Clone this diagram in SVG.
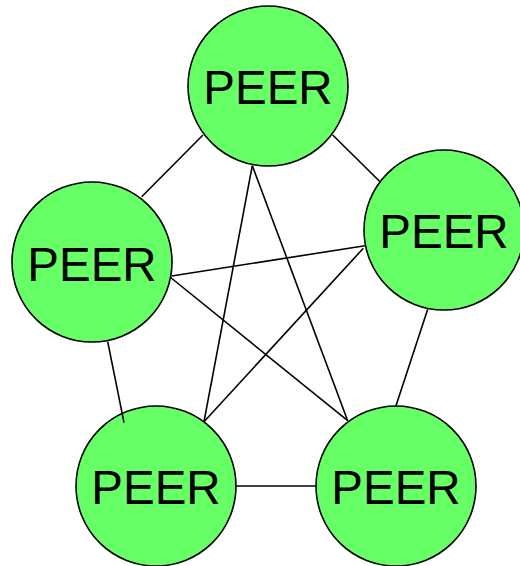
<svg xmlns="http://www.w3.org/2000/svg" width="520" height="566" viewBox="0 0 520 566">
<style>
.n{fill:#66ff66;stroke:#000;stroke-width:1.6}
.t{font-family:"Liberation Sans",Arial,sans-serif;font-size:47.5px;fill:#000;text-anchor:middle}
.c line{stroke:#000;stroke-width:1.6}
</style>
<rect width="520" height="566" fill="#fff"/>
<g id="peer-top"><circle class="n" cx="268" cy="86" r="80"/><text class="t" x="268" y="104">PEER</text></g>
<g id="peer-left"><circle class="n" cx="92" cy="262" r="80"/><text class="t" x="92" y="281">PEER</text></g>
<g id="peer-right"><circle class="n" cx="444" cy="230" r="80"/><text class="t" x="444" y="248">PEER</text></g>
<g id="peer-bottom-left"><circle class="n" cx="156" cy="486" r="80"/><text class="t" x="156" y="504">PEER</text></g>
<g id="peer-bottom-right"><circle class="n" cx="396" cy="486" r="80"/><text class="t" x="396" y="504">PEER</text></g>
<g id="connectors" class="c">
<line x1="203" y1="135" x2="141.7" y2="196.7"/>
<line x1="332.7" y1="135" x2="380" y2="181.7"/>
<line x1="252.3" y1="165.7" x2="204" y2="421.7"/>
<line x1="252.3" y1="165.7" x2="347.7" y2="420.7"/>
<line x1="171.7" y1="276" x2="365" y2="245.7"/>
<line x1="170" y1="277" x2="347.7" y2="420.7"/>
<line x1="363.3" y1="248.3" x2="204" y2="421.7"/>
<line x1="107.7" y1="341.7" x2="124" y2="422.7"/>
<line x1="427.7" y1="309.3" x2="396" y2="405.7"/>
<line x1="235.7" y1="486" x2="316" y2="486"/>
</g>
</svg>
